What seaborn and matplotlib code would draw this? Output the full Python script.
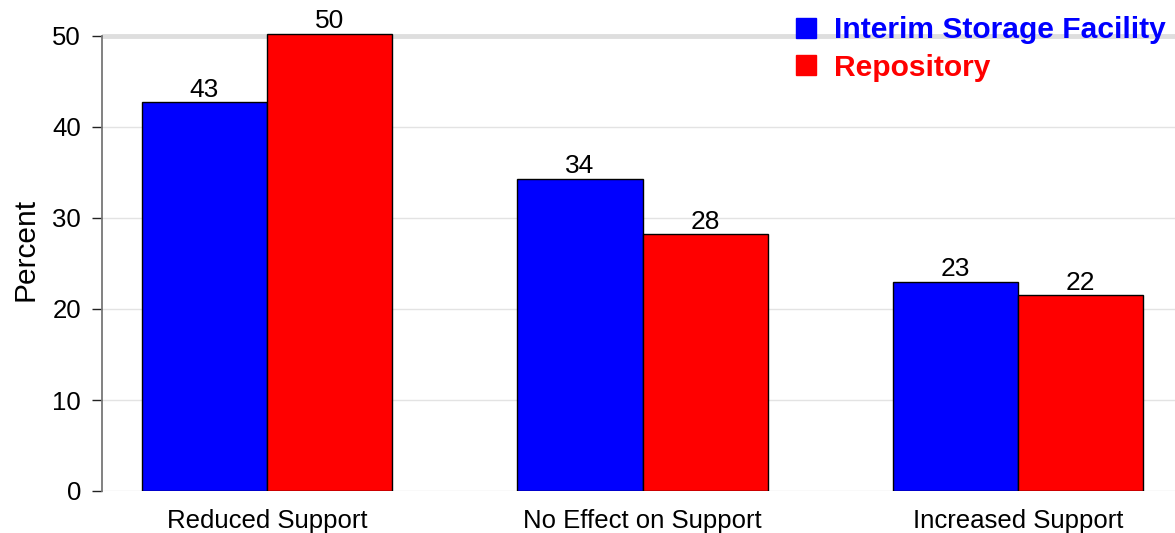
import matplotlib
matplotlib.use("Agg")
import matplotlib.pyplot as plt
from matplotlib.lines import Line2D
import pandas as pd
import seaborn as sns

# Survey responses: effect on support, by facility type (percent)
categories = ["Reduced Support", "No Effect on Support", "Increased Support"]
interim_storage = [42.7, 34.3, 23.0]
repository = [50.2, 28.2, 21.5]
series_names = ["Interim Storage Facility", "Repository"]
series_colors = ["#0000ff", "#ff0000"]
y_ticks = [0, 10, 20, 30, 40, 50]

df = pd.DataFrame({
    "category": categories * 2,
    "series": [series_names[0]] * 3 + [series_names[1]] * 3,
    "value": interim_storage + repository,
})

sns.set_theme(style="white")
plt.rcParams["font.family"] = ["Liberation Sans", "DejaVu Sans"]

fig = plt.figure(figsize=(11.75, 5.33), dpi=100)
ax = fig.add_axes([102 / 1175, 42 / 533, 1073 / 1175, 482.3 / 533])

sns.barplot(
    data=df, x="category", y="value", hue="series",
    order=categories, hue_order=series_names,
    palette=dict(zip(series_names, series_colors)),
    width=0.667, gap=0, saturation=1,
    edgecolor="black", linewidth=1.0,
    legend=False, ax=ax, zorder=3,
)

for cont in ax.containers:
    vals = [bar.get_height() for bar in cont]
    ax.bar_label(cont, labels=[f"{v:.0f}" for v in vals],
                 padding=0.5, fontsize=19, color="black")

ax.set_xlim(-0.4394, 2.418)
ax.set_ylim(0, 53)
ax.set_yticks(y_ticks)
ax.set_yticklabels([str(t) for t in y_ticks])

# horizontal guides; the 50 line is drawn heavier
ax.set_axisbelow(True)
for t in y_ticks[:-1]:
    ax.axhline(t, color="#e3e3e3", lw=1.0, zorder=0)
ax.axhline(50, color="#dedede", lw=3.5, zorder=0)

for s in ["top", "right", "bottom"]:
    ax.spines[s].set_visible(False)
ax.spines["left"].set_color("#777777")
ax.spines["left"].set_linewidth(1.3)
ax.spines["left"].set_bounds(0, 50)

ax.tick_params(axis="y", which="major", left=True, length=7.2, width=1.0,
               color="#222222", pad=8.0, labelsize=18.5, labelcolor="black")
ax.tick_params(axis="x", length=0, pad=13, labelsize=18.5, labelcolor="black")

ax.set_xlabel("")
ax.set_ylabel("Percent", fontsize=21.5, color="black", labelpad=9)

handles = [Line2D([], [], marker="s", linestyle="none", markersize=14.4,
                  markerfacecolor=c, markeredgecolor=c) for c in series_colors]
fig.legend(handles, series_names, loc="upper left",
           bbox_to_anchor=(791 / 1175, 1 - 16 / 533),
           frameon=False, borderpad=0, borderaxespad=0,
           handlelength=1.0, handletextpad=0.45, labelspacing=0.33,
           prop={"size": 21.6, "weight": "bold"},
           labelcolor=series_colors)

fig.savefig("out.png", dpi=100)
